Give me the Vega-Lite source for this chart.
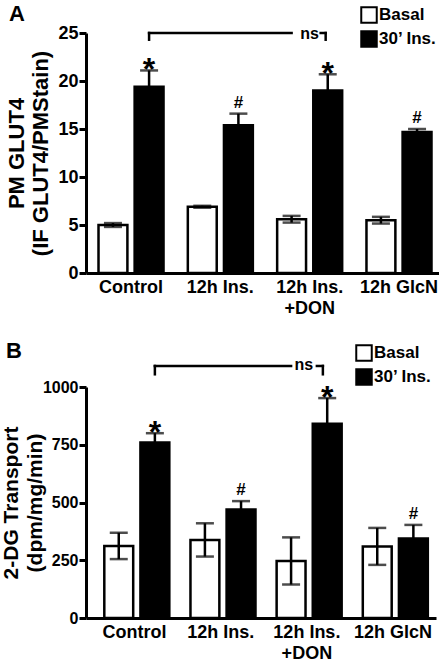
{
  "$schema": "https://vega.github.io/schema/vega-lite/v6.json",
  "background": "white",
  "padding": {"left": 0, "top": 3, "right": 0, "bottom": 0},
  "columns": 1,
  "align": "none",
  "spacing": 23,
  "resolve": {"scale": {"fill": "independent"}, "legend": {"fill": "independent"}},
  "config": {
    "font": "Liberation Sans",
    "view": {"stroke": null},
    "axis": {
      "labelFont": "Liberation Sans", "labelFontSize": 18, "labelFontWeight": "bold", "labelColor": "black",
      "titleFont": "Liberation Sans", "titleFontSize": 22, "titleFontWeight": "bold", "titleColor": "black",
      "domainColor": "black", "domainWidth": 3, "tickColor": "black", "tickWidth": 3, "tickSize": 7, "grid": false
    },
    "axisX": {"ticks": false, "labelPadding": 5, "labelAngle": 0, "labelLineHeight": 21, "labelFontSize": 18},
    "axisY": {"labelPadding": 1, "titlePadding": 5, "titleLineHeight": 24},
    "legend": {
      "title": null, "orient": "none", "padding": 0, "symbolType": "square", "symbolSize": 240,
      "symbolStrokeColor": "black", "symbolStrokeWidth": 2, "labelFont": "Liberation Sans", "labelFontSize": 17,
      "labelFontWeight": "bold", "labelColor": "black", "rowPadding": 0, "labelOffset": 1
    },
    "title": {"font": "Liberation Sans", "fontSize": 22, "fontWeight": "bold", "color": "black", "anchor": "start", "frame": "group"}
  },
  "datasets": {
    "a": [
      {"g": "Control", "c": "Basal", "v": 5.0, "lo": 4.8, "hi": 5.2, "ann": ""},
      {"g": "Control", "c": "30’ Ins.", "v": 19.4, "lo": 17.7, "hi": 21.1, "ann": "*"},
      {"g": "12h Ins.", "c": "Basal", "v": 6.9, "lo": 6.8, "hi": 7.0, "ann": ""},
      {"g": "12h Ins.", "c": "30’ Ins.", "v": 15.4, "lo": 14.2, "hi": 16.6, "ann": "#"},
      {"g": "12h Ins. +DON", "c": "Basal", "v": 5.6, "lo": 5.25, "hi": 5.95, "ann": ""},
      {"g": "12h Ins. +DON", "c": "30’ Ins.", "v": 19.0, "lo": 17.3, "hi": 20.7, "ann": "*"},
      {"g": "12h GlcN", "c": "Basal", "v": 5.5, "lo": 5.15, "hi": 5.85, "ann": ""},
      {"g": "12h GlcN", "c": "30’ Ins.", "v": 14.7, "lo": 14.4, "hi": 15.0, "ann": "#"}
    ],
    "b": [
      {"g": "Control", "c": "Basal", "v": 312, "lo": 255, "hi": 369, "ann": ""},
      {"g": "Control", "c": "30’ Ins.", "v": 760, "lo": 720, "hi": 800, "ann": "*"},
      {"g": "12h Ins.", "c": "Basal", "v": 338, "lo": 266, "hi": 410, "ann": ""},
      {"g": "12h Ins.", "c": "30’ Ins.", "v": 470, "lo": 434, "hi": 506, "ann": "#"},
      {"g": "12h Ins. +DON", "c": "Basal", "v": 247, "lo": 145, "hi": 349, "ann": ""},
      {"g": "12h Ins. +DON", "c": "30’ Ins.", "v": 841, "lo": 730, "hi": 952, "ann": "*"},
      {"g": "12h GlcN", "c": "Basal", "v": 309, "lo": 230, "hi": 390, "ann": ""},
      {"g": "12h GlcN", "c": "30’ Ins.", "v": 344, "lo": 285, "hi": 403, "ann": "#"}
    ],
    "a_line": [
      {"g": "Control", "c": "30’ Ins.", "y": 25},
      {"g": "12h Ins. +DON", "c": "Basal", "y": 25}
    ],
    "a_vert": [
      {"g": "Control", "c": "30’ Ins.", "y": 25, "y2": 24.3}
    ],
    "a_right": [
      {"g": "12h Ins. +DON", "y": 25, "y2": 24.3, "t": "ns", "ty": 24.4}
    ],
    "b_line": [
      {"g": "Control", "c": "30’ Ins.", "y": 1091},
      {"g": "12h Ins. +DON", "c": "Basal", "y": 1091}
    ],
    "b_vert": [
      {"g": "Control", "c": "30’ Ins.", "y": 1091, "y2": 1055}
    ],
    "b_right": [
      {"g": "12h Ins. +DON", "y": 1091, "y2": 1055, "t": "ns", "ty": 1074}
    ]
  },
  "concat": [
    {
      "width": 353, "height": 240,
      "title": {"text": "A", "dx": -77, "dy": 24},
      "data": {"name": "a"},
      "layer": [
        {
          "mark": {"type": "bar", "stroke": "black", "strokeWidth": 2.5},
          "encoding": {
            "x": {"field": "g", "type": "nominal", "title": null,
              "scale": {"domain": ["Control", "12h Ins.", "12h Ins. +DON", "12h GlcN"], "paddingInner": 0.272, "paddingOuter": 0.112, "align": 0.625},
              "axis": {"labelExpr": "datum.value == '12h Ins. +DON' ? ['12h Ins.', '+DON'] : datum.label"}},
            "xOffset": {"field": "c", "type": "nominal", "scale": {"domain": ["Basal", "30’ Ins."], "paddingInner": 0.2, "paddingOuter": 0}},
            "y": {"field": "v", "type": "quantitative", "scale": {"domain": [0, 25], "nice": false},
              "axis": {"values": [0, 5, 10, 15, 20, 25], "title": ["PM GLUT4", "(IF GLUT4/PMStain)"]}},
            "fill": {"field": "c", "type": "nominal", "scale": {"domain": ["Basal", "30’ Ins."], "range": ["white", "black"]},
              "legend": {"legendX": 274, "legendY": -27}}
          }
        },
        {
          "mark": {"type": "rule", "color": "black", "strokeWidth": 2.5},
          "encoding": {
            "x": {"field": "g", "type": "nominal"},
            "xOffset": {"field": "c", "type": "nominal"},
            "y": {"field": "lo", "type": "quantitative"},
            "y2": {"field": "hi"}
          }
        },
        {
          "mark": {"type": "tick", "color": "black", "size": 18, "thickness": 2.5},
          "encoding": {
            "x": {"field": "g", "type": "nominal"},
            "xOffset": {"field": "c", "type": "nominal"},
            "y": {"field": "hi", "type": "quantitative"}
          }
        },
        {
          "mark": {"type": "tick", "color": "black", "size": 18, "thickness": 2.5},
          "encoding": {
            "x": {"field": "g", "type": "nominal"},
            "xOffset": {"field": "c", "type": "nominal"},
            "y": {"field": "lo", "type": "quantitative"}
          }
        },
        {
          "transform": [{"filter": "datum.ann == '*'"}],
          "mark": {"type": "text", "fontSize": 32, "fontWeight": "bold", "baseline": "alphabetic", "dy": 10, "color": "black"},
          "encoding": {
            "x": {"field": "g", "type": "nominal"},
            "xOffset": {"field": "c", "type": "nominal"},
            "y": {"field": "hi", "type": "quantitative"},
            "text": {"field": "ann"}
          }
        },
        {
          "transform": [{"filter": "datum.ann == '#'"}],
          "mark": {"type": "text", "fontSize": 17, "fontWeight": "bold", "baseline": "alphabetic", "dy": -6, "color": "black"},
          "encoding": {
            "x": {"field": "g", "type": "nominal"},
            "xOffset": {"field": "c", "type": "nominal"},
            "y": {"field": "hi", "type": "quantitative"},
            "text": {"field": "ann"}
          }
        },
        {
          "data": {"name": "a_line"},
          "mark": {"type": "line", "color": "black", "strokeWidth": 2.5, "strokeCap": "square"},
          "encoding": {
            "x": {"field": "g", "type": "nominal"},
            "xOffset": {"field": "c", "type": "nominal"},
            "y": {"field": "y", "type": "quantitative"}
          }
        },
        {
          "data": {"name": "a_vert"},
          "mark": {"type": "rule", "color": "black", "strokeWidth": 2.5, "strokeCap": "square"},
          "encoding": {
            "x": {"field": "g", "type": "nominal"},
            "xOffset": {"field": "c", "type": "nominal"},
            "y": {"field": "y", "type": "quantitative"},
            "y2": {"field": "y2"}
          }
        },
        {
          "data": {"name": "a_right"},
          "mark": {"type": "rule", "color": "black", "strokeWidth": 2.5, "strokeCap": "square", "xOffset": 16},
          "encoding": {
            "x": {"field": "g", "type": "nominal"},
            "y": {"field": "y", "type": "quantitative"},
            "y2": {"field": "y2"}
          }
        },
        {
          "data": {"name": "a_right"},
          "mark": {"type": "rule", "color": "black", "strokeWidth": 2.5, "strokeCap": "square", "xOffset": 11, "x2Offset": 16},
          "encoding": {
            "x": {"field": "g", "type": "nominal"},
            "x2": {"field": "g"},
            "y": {"field": "y", "type": "quantitative"}
          }
        },
        {
          "data": {"name": "a_right"},
          "mark": {"type": "text", "fontSize": 16, "fontWeight": "bold", "baseline": "alphabetic", "color": "black"},
          "encoding": {
            "x": {"field": "g", "type": "nominal"},
            "y": {"field": "ty", "type": "quantitative"},
            "text": {"field": "t"}
          }
        }
      ]
    },
    {
      "width": 350, "height": 231,
      "title": {"text": "B", "dx": -80, "dy": 23},
      "data": {"name": "b"},
      "layer": [
        {
          "mark": {"type": "bar", "stroke": "black", "strokeWidth": 2.5},
          "encoding": {
            "x": {"field": "g", "type": "nominal", "title": null,
              "scale": {"domain": ["Control", "12h Ins.", "12h Ins. +DON", "12h GlcN"], "paddingInner": 0.298, "paddingOuter": 0.18, "align": 0.59},
              "axis": {"labelExpr": "datum.value == '12h Ins. +DON' ? ['12h Ins.', '+DON'] : datum.label"}},
            "xOffset": {"field": "c", "type": "nominal", "scale": {"domain": ["Basal", "30’ Ins."], "paddingInner": 0.138, "paddingOuter": 0}},
            "y": {"field": "v", "type": "quantitative", "scale": {"domain": [0, 1000], "nice": false},
              "axis": {"values": [0, 250, 500, 750, 1000], "format": "d", "labelFontSize": 16, "titleFontSize": 21, "titlePadding": -3, "title": ["2-DG Transport", "(dpm/mg/min)"]}},
            "fill": {"field": "c", "type": "nominal", "scale": {"domain": ["Basal", "30’ Ins."], "range": ["white", "black"]},
              "legend": {"legendX": 269, "legendY": -43}}
          }
        },
        {
          "mark": {"type": "rule", "color": "black", "strokeWidth": 2.5},
          "encoding": {
            "x": {"field": "g", "type": "nominal"},
            "xOffset": {"field": "c", "type": "nominal"},
            "y": {"field": "lo", "type": "quantitative"},
            "y2": {"field": "hi"}
          }
        },
        {
          "mark": {"type": "tick", "color": "black", "size": 18, "thickness": 2.5},
          "encoding": {
            "x": {"field": "g", "type": "nominal"},
            "xOffset": {"field": "c", "type": "nominal"},
            "y": {"field": "hi", "type": "quantitative"}
          }
        },
        {
          "mark": {"type": "tick", "color": "black", "size": 18, "thickness": 2.5},
          "encoding": {
            "x": {"field": "g", "type": "nominal"},
            "xOffset": {"field": "c", "type": "nominal"},
            "y": {"field": "lo", "type": "quantitative"}
          }
        },
        {
          "transform": [{"filter": "datum.ann == '*'"}],
          "mark": {"type": "text", "fontSize": 32, "fontWeight": "bold", "baseline": "alphabetic", "dy": 10, "color": "black"},
          "encoding": {
            "x": {"field": "g", "type": "nominal"},
            "xOffset": {"field": "c", "type": "nominal"},
            "y": {"field": "hi", "type": "quantitative"},
            "text": {"field": "ann"}
          }
        },
        {
          "transform": [{"filter": "datum.ann == '#'"}],
          "mark": {"type": "text", "fontSize": 17, "fontWeight": "bold", "baseline": "alphabetic", "dy": -6, "color": "black"},
          "encoding": {
            "x": {"field": "g", "type": "nominal"},
            "xOffset": {"field": "c", "type": "nominal"},
            "y": {"field": "hi", "type": "quantitative"},
            "text": {"field": "ann"}
          }
        },
        {
          "data": {"name": "b_line"},
          "mark": {"type": "line", "color": "black", "strokeWidth": 2.5, "strokeCap": "square"},
          "encoding": {
            "x": {"field": "g", "type": "nominal"},
            "xOffset": {"field": "c", "type": "nominal"},
            "y": {"field": "y", "type": "quantitative"}
          }
        },
        {
          "data": {"name": "b_vert"},
          "mark": {"type": "rule", "color": "black", "strokeWidth": 2.5, "strokeCap": "square"},
          "encoding": {
            "x": {"field": "g", "type": "nominal"},
            "xOffset": {"field": "c", "type": "nominal"},
            "y": {"field": "y", "type": "quantitative"},
            "y2": {"field": "y2"}
          }
        },
        {
          "data": {"name": "b_right"},
          "mark": {"type": "rule", "color": "black", "strokeWidth": 2.5, "strokeCap": "square", "xOffset": 16},
          "encoding": {
            "x": {"field": "g", "type": "nominal"},
            "y": {"field": "y", "type": "quantitative"},
            "y2": {"field": "y2"}
          }
        },
        {
          "data": {"name": "b_right"},
          "mark": {"type": "rule", "color": "black", "strokeWidth": 2.5, "strokeCap": "square", "xOffset": 10, "x2Offset": 16},
          "encoding": {
            "x": {"field": "g", "type": "nominal"},
            "x2": {"field": "g"},
            "y": {"field": "y", "type": "quantitative"}
          }
        },
        {
          "data": {"name": "b_right"},
          "mark": {"type": "text", "fontSize": 16, "fontWeight": "bold", "baseline": "alphabetic", "color": "black", "dx": -3},
          "encoding": {
            "x": {"field": "g", "type": "nominal"},
            "y": {"field": "ty", "type": "quantitative"},
            "text": {"field": "t"}
          }
        }
      ]
    }
  ]
}
